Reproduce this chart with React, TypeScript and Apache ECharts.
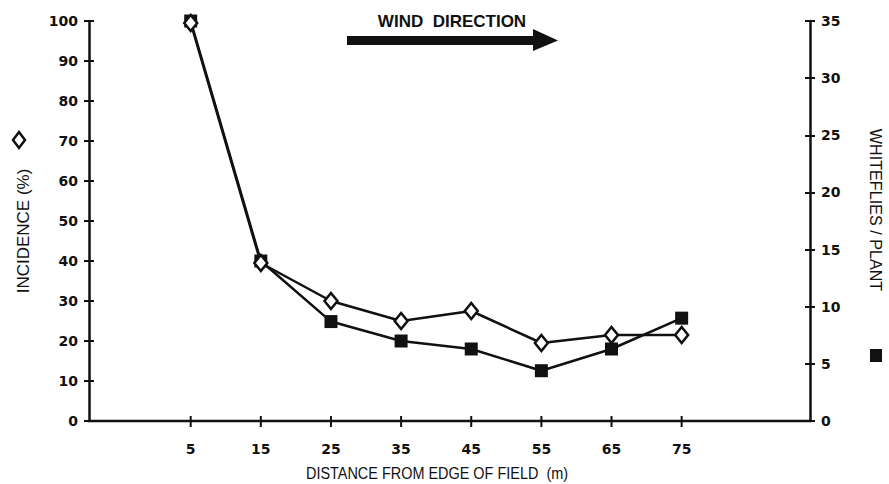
import React, { useEffect, useRef } from "react";
import * as echarts from "echarts";

const distances = [5, 15, 25, 35, 45, 55, 65, 75];
const incidence = [99.5, 39.5, 30, 25, 27.5, 19.5, 21.5, 21.5];
const whiteflies = [35, 14, 8.7, 7, 6.3, 4.4, 6.3, 9];
const leftTicks = [0, 100, 10];
const rightTicks = [0, 35, 5];
const xRange = [-9.5, 93.3];

const FONT = "'Liberation Sans', Arial, Helvetica, sans-serif";
const TICKFONT = "'DejaVu Sans', 'Liberation Sans', Arial, sans-serif";
const GRID = { left: 89, right: 79, top: 21, bottom: 63 };
const W = 889;
const H = 484;

export default function App() {
  const ref = useRef<HTMLDivElement>(null);
  useEffect(() => {
    if (!ref.current) return;
    const chart = echarts.init(ref.current, null, { renderer: "svg" });
    const incData = distances.map((d, i) => [d, incidence[i]]);
    const wfData = distances.map((d, i) => [d, whiteflies[i]]);
    const lbl = { color: "#111", fontFamily: TICKFONT, fontWeight: "bold" as const, fontSize: 14 };
    const yCommon = (pos: "left" | "right", t: number[], inside: boolean, show: boolean) => ({
      type: "value" as const,
      position: pos,
      offset: 0,
      min: t[0],
      max: t[1],
      interval: t[2],
      splitLine: { show: false },
      axisLine: { show, onZero: false, lineStyle: { color: "#111", width: 2.5 } },
      axisTick: { show: true, inside, length: 5, lineStyle: { color: "#111", width: 2 } },
      axisLabel: { show, ...lbl, margin: 11 },
    });
    const baseGraphic: any[] = [
      {
        type: "text",
        x: 23,
        y: 231,
        rotation: Math.PI / 2,
        style: { text: "INCIDENCE (%)", fontFamily: FONT, fontSize: 17, fill: "#111", align: "center", verticalAlign: "middle" },
      },
      {
        type: "polygon",
        shape: { points: [[19, 132], [25, 140], [19, 148], [13, 140]] },
        style: { fill: "#fff", stroke: "#111", lineWidth: 2.5 },
      },
      {
        type: "text",
        x: 876,
        y: 210,
        rotation: -Math.PI / 2,
        scaleX: 0.95,
        style: { text: "WHITEFLIES / PLANT", fontFamily: FONT, fontSize: 17, fill: "#111", align: "center", verticalAlign: "middle" },
      },
      { type: "rect", shape: { x: 870, y: 349, width: 12, height: 13 }, style: { fill: "#111" } },
      {
        type: "text",
        x: 437,
        y: 473,
        scaleX: 0.85,
        style: { text: "DISTANCE FROM EDGE OF FIELD  (m)", fontFamily: FONT, fontSize: 17, fill: "#111", align: "center", verticalAlign: "middle" },
      },
      {
        type: "text",
        x: 452,
        y: 21,
        style: { text: "WIND  DIRECTION", fontFamily: FONT, fontWeight: "bold", fontSize: 17, fill: "#111", align: "center", verticalAlign: "middle" },
      },
      {
        type: "polygon",
        shape: { points: [[347, 36], [533, 36], [533, 29], [558, 40.5], [533, 51], [533, 45], [347, 45]] },
        style: { fill: "#111" },
      },
    ];
    chart.setOption({
      animation: false,
      backgroundColor: "#fff",
      grid: GRID,
      xAxis: {
        type: "value",
        position: "bottom",
        min: xRange[0],
        max: xRange[1],
        splitLine: { show: false },
        axisLine: { show: false, onZero: false },
        axisTick: { show: false },
        axisLabel: { show: true, ...lbl, margin: 21, customValues: distances },
      },
      yAxis: [
        yCommon("left", leftTicks, false, true),
        yCommon("right", rightTicks, false, true),
        yCommon("left", leftTicks, true, false),
        yCommon("right", rightTicks, true, false),
      ],
      series: [
        {
          name: "Whiteflies / plant",
          type: "line",
          yAxisIndex: 1,
          data: wfData,
          symbol: "rect",
          symbolSize: 13,
          z: 2,
          lineStyle: { color: "#111", width: 2.5 },
          itemStyle: { color: "#111", borderColor: "#111", borderWidth: 0 },
        },
        {
          name: "Incidence (%)",
          type: "line",
          yAxisIndex: 0,
          data: incData,
          symbol: "diamond",
          symbolSize: [13, 16],
          z: 3,
          lineStyle: { color: "#111", width: 2.5 },
          itemStyle: { color: "#fff", borderColor: "#111", borderWidth: 2.5 },
        },
      ],
      graphic: baseGraphic,
    });
    // x-axis line and crossing ticks drawn as filled rects, positioned via the chart's scale
    const gx0 = GRID.left;
    const gx1 = W - GRID.right;
    const gy = H - GRID.bottom;
    const toPx = (v: number) => {
      let p: any = null;
      try {
        p = chart.convertToPixel({ xAxisIndex: 0, yAxisIndex: 0 }, [v, 0]);
      } catch (e) {
        p = null;
      }
      if (p && isFinite(p[0]) && isFinite(p[1])) return p as number[];
      return [gx0 + ((v - xRange[0]) / (xRange[1] - xRange[0])) * (gx1 - gx0), gy];
    };
    const a = toPx(xRange[0]);
    const b = toPx(xRange[1]);
    const axisGraphic: any[] = [
      {
        type: "rect",
        z: 100,
        shape: { x: a[0] - 1.25, y: a[1] - 1.25, width: b[0] - a[0] + 2.5, height: 2.5 },
        style: { fill: "#111" },
      },
    ];
    distances.forEach((d) => {
      const p = toPx(d);
      axisGraphic.push({
        type: "rect",
        z: 100,
        shape: { x: p[0] - 1, y: p[1] - 5, width: 2, height: 11 },
        style: { fill: "#111" },
      });
    });
    chart.setOption({ graphic: [...baseGraphic, ...axisGraphic] });
    return () => chart.dispose();
  }, []);
  return <div ref={ref} style={{ width: W, height: H, position: "absolute", left: 0, top: 0 }} />;
}
